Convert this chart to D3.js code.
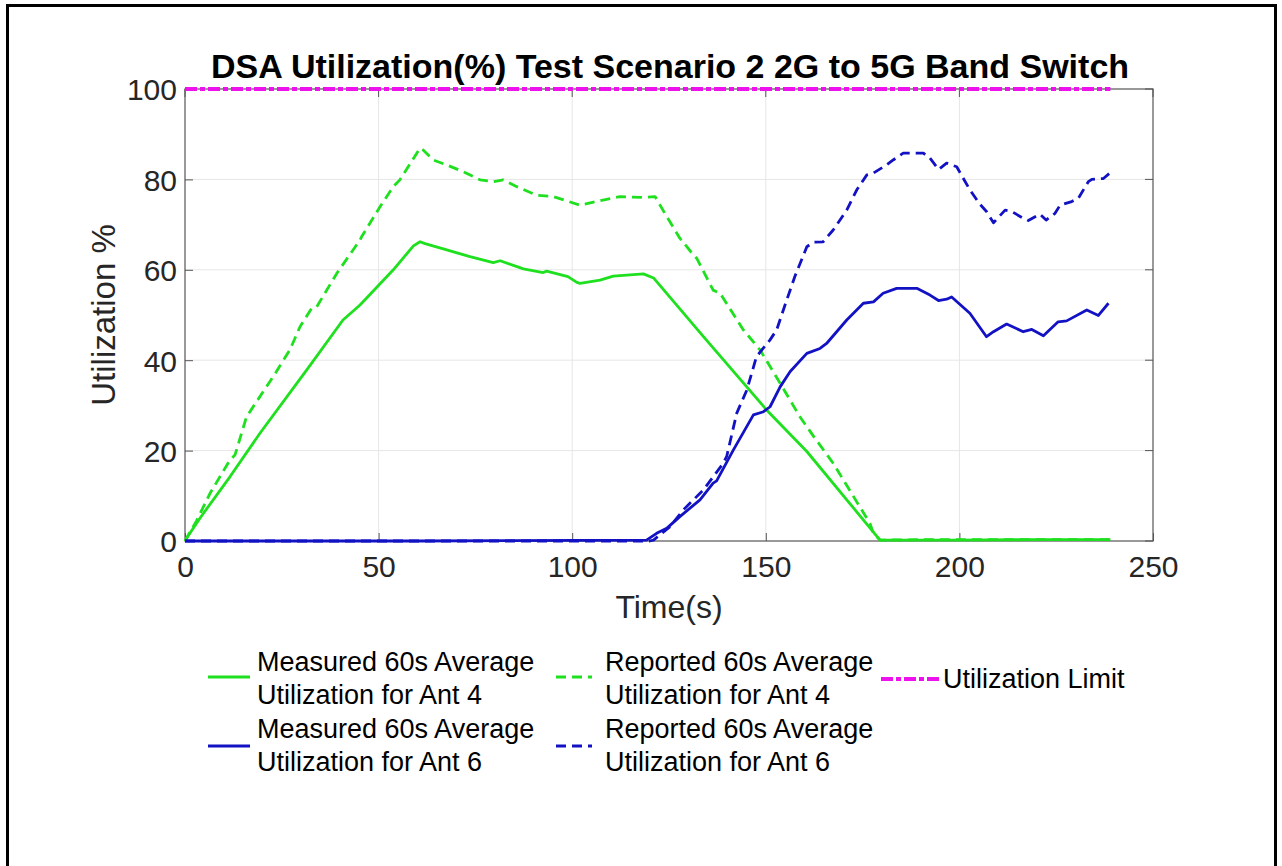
<!DOCTYPE html>
<html><head><meta charset="utf-8">
<script src="https://cdn.jsdelivr.net/npm/d3@7"></script>
<style>body{margin:0;background:#fff;}svg{display:block;font-family:"Liberation Sans",Arial,sans-serif;}</style>
</head><body>
<svg id="c" width="1282" height="866"></svg>
<script>
// ---- data ----
const xTicks = [0, 50, 100, 150, 200, 250];
const yTicks = [0, 20, 40, 60, 80, 100];

const measAnt4T = [0,0.4,3.9,11.6,19.4,31.4,40.8,45.2,53.8,59,60.7,62,67.6,73.6,79.6,81.4,87.4,92.5,93.4,98.9,101.2,102,107.2,110.6,118.4,121,133.9,150.2,160.6,179.5,185,200,220,239];
const measAnt4V = [0,0.6,5.1,14.2,23.9,37.8,48.9,52.2,60,65.3,66.2,65.8,64.4,62.9,61.6,62,60.2,59.4,59.7,58.5,57.2,57,57.7,58.6,59.1,58.2,45.2,29,19.8,0.2,0.2,0.2,0.3,0.3];

const repAnt4T = [0,3,6.5,11.6,12.9,15.9,22.8,27.1,29.7,32.7,34,39.2,45.2,45.6,50.4,53.8,55.5,60.7,61.5,64.1,67.6,71.9,76.2,79.6,82.2,85.7,90.8,95.1,102,106.3,112.3,118.4,121.4,124.4,127.8,131.3,132.2,136.4,138.2,144.2,148.5,153.7,158.8,162.3,167.4,176.9,177.8,179.5,190,210,239];
const repAnt4V = [0,4.5,10.6,17.9,19,27.5,36.4,42.3,47.4,51.5,51.8,59.2,66.6,67.3,74,78.4,79.9,86.9,86.5,84.3,83.2,81.7,79.9,79.5,79.9,78.4,76.5,76.2,74.3,75.1,76.2,76,76.2,71.8,67,63.3,62.5,55.5,54.8,46.7,42.3,34.9,27.5,23.2,17.2,3.9,1.7,0.2,0.3,0.3,0.3];

const measAnt6T = [0,60,119.2,121.8,124.4,127.8,133,136.4,137.3,141.6,146.8,149.4,151.1,153.7,156.3,160.6,164,165.7,170.9,175.2,177.8,180.3,183.8,189,192.4,194.6,196.7,198,202.7,207,208.8,212.2,216.5,218.7,221.7,225.5,227.7,232.9,235.9,238.5];
const measAnt6V = [0,0,0.2,1.7,2.8,5.4,9.1,12.8,13.3,20.1,27.9,28.6,29.7,34.1,37.5,41.5,42.6,43.7,48.9,52.6,52.9,54.8,55.9,55.9,54.4,53.2,53.5,54,50.4,45.2,46.3,48,46.3,46.8,45.4,48.5,48.7,51.1,49.9,52.6];

const repAnt6T = [0,60,120,121,125.3,128.7,133.9,139,139.9,142.5,145.1,147.6,151.1,152.8,155.4,157.5,160.6,162.3,164.8,167.4,170.9,173.5,176.1,177.8,181.2,182.9,185.5,190.7,192.4,194.6,196.7,199.3,202.7,205.3,207,208.8,211.8,213.5,216.5,217.8,220.8,222.4,224.7,226,229,230.7,233.3,234.2,237.2,238.7];
const repAnt6V = [0,0,0,0.2,3.2,6.9,11.3,17.2,18.7,28.3,33.4,40.8,44.5,46.7,53.3,58.5,65.1,66.1,66.2,68.8,73.2,77.7,81,81.4,83.2,84.3,85.8,85.8,84.7,82.2,83.6,82.8,77.7,74.5,72.9,70.4,73.2,72.9,71.4,70.9,72.3,71,72.5,74.3,75.1,75.8,79.5,80,80.2,81.3];

const limitT = [0, 239];
const limitV = [100, 100];

const seriesNames = ["Measured 60s Average\nUtilization for Ant 4","Reported 60s Average\nUtilization for Ant 4","Utilization Limit","Measured 60s Average\nUtilization for Ant 6","Reported 60s Average\nUtilization for Ant 6"];
const titleText = "DSA Utilization(%) Test Scenario 2 2G to 5G Band Switch";
const xLabel = "Time(s)";
const yLabel = "Utilization %";

// ---- chart ----
const GREEN = "#1fe01f", BLUE = "#1212c4", MAG = "#ee11ee";
const FONT = "Liberation Sans, Arial, sans-serif";
const svg = d3.select("#c");
svg.append("rect").attr("x",7.5).attr("y",5.5).attr("width",1268).attr("height",870)
  .attr("fill","none").attr("stroke","#000").attr("stroke-width",3);

const L = 185, R = 1153, T = 89, B = 541;
const x = d3.scaleLinear().domain([0,250]).range([L,R]);
const y = d3.scaleLinear().domain([0,100]).range([B,T]);

// grid
const g = svg.append("g");
g.selectAll(".gx").data(xTicks.slice(1,-1)).join("line")
  .attr("x1",d=>x(d)).attr("x2",d=>x(d)).attr("y1",T).attr("y2",B)
  .attr("stroke","#e6e6e6").attr("stroke-width",1);
g.selectAll(".gy").data(yTicks.slice(1,-1)).join("line")
  .attr("x1",L).attr("x2",R).attr("y1",d=>y(d)).attr("y2",d=>y(d))
  .attr("stroke","#e6e6e6").attr("stroke-width",1);

// axes
const ax = svg.append("g").attr("transform",`translate(0,${B})`)
  .call(d3.axisBottom(x).tickValues(xTicks).tickSize(-8).tickPadding(15).tickFormat(d3.format("d")));
const ay = svg.append("g").attr("transform",`translate(${L},0)`)
  .call(d3.axisLeft(y).tickValues(yTicks).tickSize(-8).tickPadding(8).tickFormat(d3.format("d")));
[ax,ay].forEach(a=>{
  a.select(".domain").remove();
  a.selectAll(".tick line").attr("stroke","#555");
  a.selectAll(".tick text").attr("fill","#262626").attr("font-size",30).attr("font-family",FONT);
});
ax.selectAll(".tick text").attr("dy","0.71em");
ay.selectAll(".tick text").attr("dy","0.36em");
// top/right ticks
svg.append("g").selectAll("line").data(xTicks).join("line")
  .attr("x1",d=>x(d)).attr("x2",d=>x(d)).attr("y1",T).attr("y2",T+8).attr("stroke","#555");
svg.append("g").selectAll("line").data(yTicks).join("line")
  .attr("x1",R).attr("x2",R-8).attr("y1",d=>y(d)).attr("y2",d=>y(d)).attr("stroke","#555");
// box
svg.append("rect").attr("x",L).attr("y",T).attr("width",R-L).attr("height",B-T)
  .attr("fill","none").attr("stroke","#555").attr("stroke-width",1.2);

// lines
const line = d3.line().x(d=>x(d[0])).y(d=>y(d[1]));
const zip = (a,b)=>a.map((t,i)=>[t,b[i]]);
const series = [
  {t:measAnt4T,v:measAnt4V,c:GREEN,dash:null,w:2.8},
  {t:repAnt4T,v:repAnt4V,c:GREEN,dash:"10,6",w:2.8},
  {t:measAnt6T,v:measAnt6V,c:BLUE,dash:null,w:2.8},
  {t:repAnt6T,v:repAnt6V,c:BLUE,dash:"10,6",w:2.8},
  {t:limitT,v:limitV,c:MAG,dash:"12,3,5,3",w:4}
];
series.forEach(s=>{
  svg.append("path").datum(zip(s.t,s.v)).attr("d",line)
    .attr("fill","none").attr("stroke",s.c).attr("stroke-width",s.w)
    .attr("stroke-linejoin","round")
    .attr("stroke-dasharray",s.dash);
});

// title
svg.append("text").attr("x",670).attr("y",78).attr("text-anchor","middle")
  .attr("font-size",34).attr("font-weight","bold").attr("fill","#000").text(titleText);
// axis labels
svg.append("text").attr("x",(L+R)/2).attr("y",618).attr("text-anchor","middle")
  .attr("font-size",32).attr("fill","#262626").text(xLabel);
svg.append("text").attr("transform",`translate(115,${(T+B)/2}) rotate(-90)`).attr("text-anchor","middle")
  .attr("font-size",33).attr("fill","#262626").text(yLabel);

// legend
const leg = [
  {name:seriesNames[0],c:GREEN,dash:null,x1:208,x2:250,ly:677,tx:257,ty:671,w:3},
  {name:seriesNames[1],c:GREEN,dash:"10,6",x1:556,x2:592,ly:677,tx:605,ty:671,w:3},
  {name:seriesNames[2],c:MAG,dash:"12,3,5,3",x1:881,x2:940,ly:679,tx:943,ty:688,w:4},
  {name:seriesNames[3],c:BLUE,dash:null,x1:208,x2:250,ly:746,tx:257,ty:738,w:3},
  {name:seriesNames[4],c:BLUE,dash:"10,6",x1:556,x2:592,ly:746,tx:605,ty:738,w:3}
];
leg.forEach(l=>{
  svg.append("line").attr("x1",l.x1).attr("x2",l.x2).attr("y1",l.ly).attr("y2",l.ly)
    .attr("stroke",l.c).attr("stroke-width",l.w).attr("stroke-dasharray",l.dash);
  l.name.split("\n").forEach((s,i)=>{
    svg.append("text").attr("x",l.tx).attr("y",l.ty+i*33).attr("font-size",27).attr("fill","#000").text(s);
  });
});
</script>
</body></html>
